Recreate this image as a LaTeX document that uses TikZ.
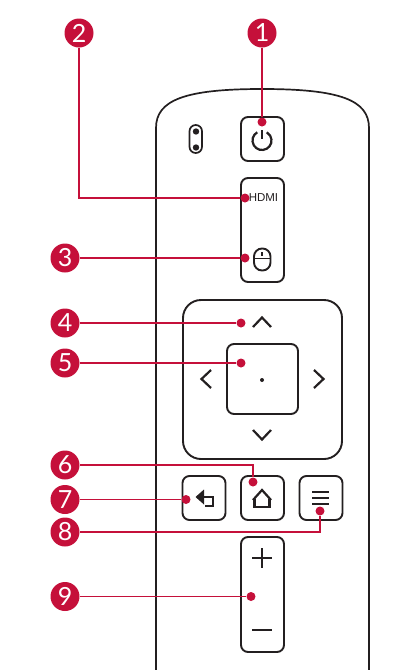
\documentclass[tikz,border=0pt]{standalone}
\usepackage{fontspec}
\setmainfont{Lato}
\newfontfamily\hdmifont{Liberation Sans}
\pgfdeclarelayer{edgelayer}
\pgfdeclarelayer{nodelayer}
\pgfsetlayers{main,edgelayer,nodelayer}
\definecolor{leaderred}{HTML}{C5103A}
\definecolor{ink}{HTML}{231F20}
\tikzstyle{callout}=[circle, fill=leaderred, text=white, minimum size=29pt, inner sep=0pt, font=\fontsize{25}{25}\selectfont]
\tikzstyle{leader}=[draw=leaderred, line width=1.7pt]
\tikzstyle{tip}=[circle, fill=leaderred, minimum size=9pt, inner sep=0pt]
\tikzstyle{button}=[draw=ink, line width=1.9pt, rounded corners=7pt, inner sep=0pt, minimum width=43pt, minimum height=44pt]
\tikzstyle{icon}=[draw=ink, line width=2.2pt]
\tikzstyle{chevron}=[draw=ink, line width=2.2pt]

\begin{document}
\begin{tikzpicture}[x=1pt, y=1pt]
	\useasboundingbox (0, 0) rectangle (407, -670);
	% housing
	\draw [line width=1.7pt, draw=ink] (156, -670) -- (156, -128) .. controls (156, -100) and (185, -89) .. (262, -89) .. controls (340, -89) and (369, -100) .. (369, -128) -- (369, -670);
	\draw [line width=1.7pt, draw=ink, rounded corners=6.2pt] (189.5, -125) rectangle (202, -153);
	\fill [ink] (196, -131.5) circle (3.2pt);
	\fill [ink] (196, -147.5) circle (3.2pt);
	\begin{pgfonlayer}{nodelayer}
		\node [style=callout] (c1) at (262, -33) {1};
		\node [style=callout] (c2) at (79, -33) {2};
		\node [style=callout] (c3) at (65, -258) {3};
		\node [style=callout] (c4) at (65, -323) {4};
		\node [style=callout] (c5) at (65, -363) {5};
		\node [style=callout] (c6) at (65, -465) {6};
		\node [style=callout] (c7) at (65, -499.5) {7};
		\node [style=callout] (c8) at (65, -532) {8};
		\node [style=callout] (c9) at (65, -596.5) {9};
		\node [style=tip] (t1) at (262, -122) {};
		\node [style=tip] (t2) at (245, -198) {};
		\node [style=tip] (t3) at (245, -258) {};
		\node [style=tip] (t4) at (241, -323) {};
		\node [style=tip] (t5) at (241, -363) {};
		\node [style=tip] (t6) at (253, -482) {};
		\node [style=tip] (t7) at (186, -499.5) {};
		\node [style=tip] (t8) at (320, -511) {};
		\node [style=tip] (t9) at (251, -596.5) {};
	\end{pgfonlayer}
	\begin{pgfonlayer}{edgelayer}
		\draw [style=leader] (c1) to (t1);
		\draw [style=leader] (c2) |- (t2);
		\draw [style=leader] (c3) to (t3);
		\draw [style=leader] (c4) to (t4);
		\draw [style=leader] (c5) to (t5);
		\draw [style=leader] (c6) -| (t6);
		\draw [style=leader] (c7) to (t7);
		\draw [style=leader] (c8) -| (t8);
		\draw [style=leader] (c9) to (t9);
	\end{pgfonlayer}
	% buttons
	\node [style=button] (power) at (262.5, -139) {};
	\node [style=button, minimum height=104pt] (source) at (262.5, -230) {};
	\node [draw=ink, line width=1.9pt, rounded corners=18pt, minimum width=159pt, minimum height=159pt, inner sep=0pt] (pad) at (262.5, -379.5) {};
	\node [style=button, minimum width=71pt, minimum height=70pt] (ok) at (262.5, -379) {};
	\node [style=button] (back) at (204, -498) {};
	\node [style=button] (home) at (262.5, -498) {};
	\node [style=button] (menu) at (321, -498) {};
	\node [style=button, minimum height=115pt] (volume) at (262.5, -594.5) {};
	\node [font=\hdmifont\fontsize{11.5}{12}\selectfont, text=ink, inner sep=0pt] (hdmi) at (263.5, -198) {HDMI};
	% icons
	\draw [style=icon] (262, -130) -- (262, -139);
	\draw [style=icon] (262, -140.5) ++(120:9.5) arc [start angle=120, end angle=420, radius=9.5];
	\draw [style=icon, line width=1.9pt, rounded corners=8pt] (254, -248.5) rectangle (270.5, -270.5);
	\draw [style=icon, line width=1.4pt] (254, -258.5) -- (270.5, -258.5);
	\draw [style=icon, line width=1.4pt] (262, -252) -- (262, -255.5);
	\draw [style=chevron] (253, -327) -- (262, -317.5) -- (271, -327);
	\draw [style=chevron] (253, -430) -- (262, -439.5) -- (271, -430);
	\draw [style=chevron] (211, -370) -- (201.5, -379) -- (211, -388);
	\draw [style=chevron] (314, -370) -- (323.5, -379) -- (314, -388);
	\fill [ink] (262, -380) circle (2pt);
	\fill [ink] (195.5, -497) -- (204, -489.5) -- (204, -504.5) -- cycle;
	\draw [style=icon] (202, -497) -- (213, -497) -- (213, -506) -- (205, -506);
	\draw [style=icon] (253, -500) -- (262, -490) -- (271, -500);
	\draw [style=icon] (254.5, -499) -- (254.5, -507) -- (269.5, -507) -- (269.5, -499);
	\draw [style=icon] (312, -492) -- (329, -492);
	\draw [style=icon] (312, -498) -- (329, -498);
	\draw [style=icon] (312, -504) -- (329, -504);
	\draw [style=icon] (252, -558) -- (272, -558);
	\draw [style=icon] (262, -548) -- (262, -568);
	\draw [style=icon] (252, -630) -- (272, -630);
\end{tikzpicture}
\end{document}
